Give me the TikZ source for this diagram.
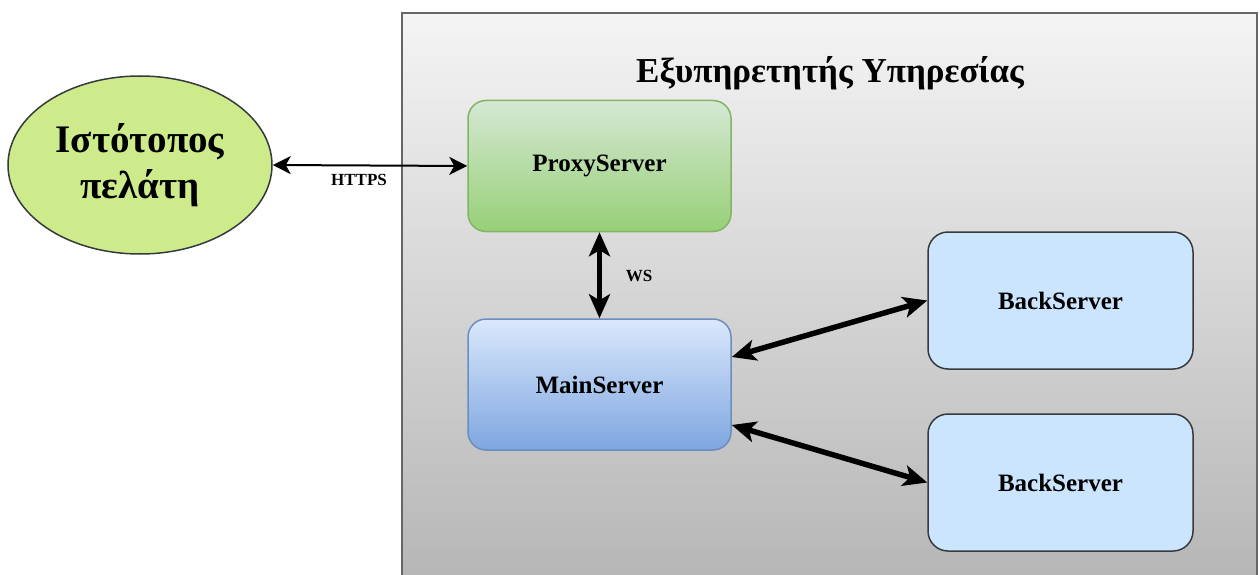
\documentclass[tikz,border=0pt]{standalone}
\usepackage{fontspec}
\setmainfont{Liberation Serif}
\usetikzlibrary{arrows.meta,shapes.geometric}
\definecolor{contTop}{HTML}{F4F4F4}
\definecolor{contBot}{HTML}{B6B6B6}
\definecolor{contLine}{HTML}{666666}
\definecolor{ellFill}{HTML}{CDEB8B}
\definecolor{darkLine}{HTML}{36393D}
\definecolor{greenTop}{HTML}{D5E8D4}
\definecolor{greenBot}{HTML}{97D077}
\definecolor{greenLine}{HTML}{82B366}
\definecolor{blueTop}{HTML}{DAE8FC}
\definecolor{blueBot}{HTML}{7EA6E0}
\definecolor{blueLine}{HTML}{6C8EBF}
\definecolor{backFill}{HTML}{CCE5FF}
\tikzset{
  srvbox/.style={rectangle, rounded corners=18pt, line width=1.5pt, minimum width=263pt, minimum height=131pt, inner sep=0pt, font=\fontsize{25}{30}\selectfont\bfseries},
  proxybox/.style={srvbox, draw=greenLine, top color=greenTop, bottom color=greenBot},
  mainbox/.style={srvbox, draw=blueLine, top color=blueTop, bottom color=blueBot},
  backbox/.style={srvbox, rounded corners=20pt, draw=darkLine, fill=backFill, minimum width=265pt, minimum height=137pt},
  thinlink/.style={line width=2pt, {Stealth[length=18pt,width=18pt,inset=5pt]}-{Stealth[length=18pt,width=18pt,inset=5pt]}},
  thicklink/.style={line width=5.5pt, {Stealth[length=24pt,width=21pt,inset=6pt]}-{Stealth[length=24pt,width=21pt,inset=6pt]}},
  linklabel/.style={font=\fontsize{17}{20}\selectfont\bfseries, inner sep=0pt}
}
\begin{document}
\begin{tikzpicture}[x=1pt,y=1pt]
\useasboundingbox (0,0) rectangle (1260,574);
\clip (0,0) rectangle (1260,574);
\fill[white] (0,0) rectangle (1260,574);
% container
\shade[top color=contTop, bottom color=contBot] (402,561) rectangle (1257,-5);
\draw[contLine, line width=2pt] (402,-5) -- (402,561) -- (1257,561) -- (1257,-5);
\node[font=\fontsize{35}{40}\selectfont\bfseries, anchor=base, inner sep=0pt] (title) at (830,491) {Εξυπηρετητής Υπηρεσίας};
% client
\node[ellipse, draw=darkLine, line width=1.5pt, fill=ellFill, minimum width=264pt, minimum height=178pt, inner sep=0pt, align=center, font=\fontsize{39}{47}\selectfont\bfseries] (client) at (140,409) {Ιστότοπος\\[-1pt]πελάτη};
% servers
\node[proxybox] (proxy) at (599.5,408) {ProxyServer};
\node[mainbox] (main) at (599.5,189.5) {MainServer};
\node[backbox] (back1) at (1060.5,273.5) {BackServer};
\node[backbox] (back2) at (1060.5,91.5) {BackServer};
% links
\draw[thinlink] (client.east) -- (proxy.west);
\node[linklabel] (https) at (359,394) {HTTPS};
\draw[thicklink] (proxy.south) -- (main.north);
\node[linklabel] (ws) at (639,298) {WS};
\draw[thicklink] ([yshift=27.5pt]main.east) -- (back1.west);
\draw[thicklink] ([yshift=-40.5pt]main.east) -- (back2.west);
\end{tikzpicture}
\end{document}
